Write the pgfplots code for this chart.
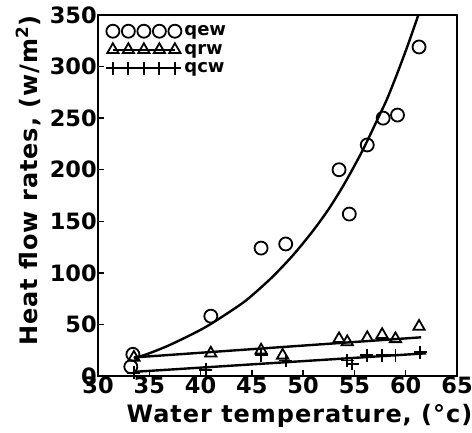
\documentclass[border=0pt]{standalone}
\usepackage{fontspec}
\setmainfont{DejaVu Sans}
\newfontfamily\labfont[LetterSpace=4]{DejaVu Sans}
\usepackage{pgfplots}
\pgfplotsset{compat=1.18}
\pgfplotsset{
  rowlegend/.style={legend image code/.code={%
    \draw[##1] plot coordinates {(7pt,0pt)(22.5pt,0pt)(38pt,0pt)(53.5pt,0pt)(69pt,0pt)};}}
}

\begin{document}
\begin{tikzpicture}
\begin{axis}[
  scale only axis,
  width=359pt, height=361pt,
  xmin=30, xmax=65, ymin=0, ymax=350,
  xtick={30,35,...,65}, ytick={0,50,...,350},
  tick pos=left, tick align=inside,
  major tick length=6pt,
  axis line style={line width=1.8pt},
  tick style={line width=1.5pt, black},
  /pgf/number format/assume math mode=true,
  tick label style={font=\fontsize{22.5}{25}\selectfont\bfseries},
  xticklabel style={inner sep=1pt},
  yticklabel style={inner sep=1pt},
  xlabel={\labfont\bfseries Water temperature, (°c)},
  ylabel={\labfont\bfseries Heat flow rates, (w/m\textsuperscript{2})},
  label style={font=\fontsize{24}{26}\selectfont},
  xlabel style={yshift=-6pt, xshift=22pt},
  ylabel style={yshift=4pt, xshift=15pt},
  legend style={at={(0.02,0.98)}, anchor=north west, draw=none, fill=none,
    font=\fontsize{18}{19}\selectfont\bfseries, row sep=3pt, inner sep=1pt,
    nodes={inner xsep=3pt}},
  legend cell align=left,
]
% legend images
\addlegendimage{black, only marks, mark=o, mark size=6.5pt, line width=1.8pt, rowlegend}
\addlegendentry{qew}
\addlegendimage{black, mark=triangle, mark size=6.5pt, line width=1.8pt, rowlegend}
\addlegendentry{qrw}
\addlegendimage{black, mark=+, mark size=6.5pt, line width=1.8pt, rowlegend}
\addlegendentry{qcw}

% fitted curves
\addplot[black, line width=2.4pt, smooth, forget plot] coordinates {
  (33.5,17)(35,22)(37.2,31)(40.5,47.5)(43.7,68)(45,78)(47,96)(49,117)(50.9,140)
  (52.5,162)(54,186)(55.76,218)(57.4,252)(58.2,269)(59.2,294)(60.25,322)(61.3,352)};
\addplot[black, line width=2.4pt, forget plot] coordinates {(33.5,18)(61.5,37.5)};
\addplot[black, line width=2.4pt, forget plot] coordinates {(33.5,4)(62,22)};

% qew
\addplot[black, only marks, mark=o, mark size=6.5pt, line width=1.8pt, forget plot] coordinates {
  (33.4,21)(33.2,9)(41,58)(45.9,124)(48.3,128)(53.5,200)(54.5,157)
  (56.25,224)(57.8,250)(59.2,253)(61.3,319)};
% qrw
\addplot[black, only marks, mark=triangle, mark size=6.5pt, line width=1.8pt, forget plot] coordinates {
  (33.5,18)(41,22)(45.9,25)(48,20)(53.5,36)(54.3,33)(56.25,37)(57.7,40)(59,36)(61.3,48)};
% qcw
\addplot[black, only marks, mark=+, mark size=6.5pt, line width=1.8pt, forget plot] coordinates {
  (33.5,3)(40.5,6)(45.9,20)(48.3,15)(54.3,15)(54.8,12)(56.2,20)(57.7,20)(59,20)(61.4,23)};
\end{axis}
\path (current axis.south west) ++(-98pt,-57pt) coordinate (bbA);
\path (current axis.north east) ++(15pt,15pt) coordinate (bbB);
\pgfresetboundingbox
\path[use as bounding box] (bbA) rectangle (bbB);
\end{tikzpicture}
\end{document}
